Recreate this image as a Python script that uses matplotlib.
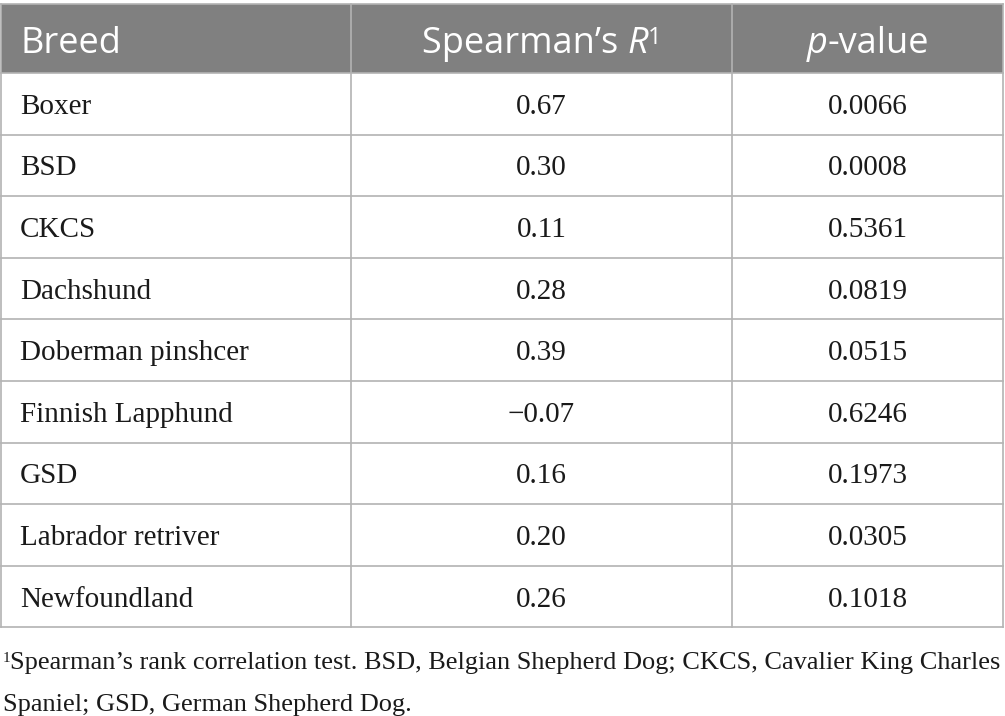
import matplotlib.pyplot as plt
from matplotlib.lines import Line2D

breeds = ['Boxer', 'BSD', 'CKCS', 'Dachshund', 'Doberman pinshcer',
          'Finnish Lapphund', 'GSD', 'Labrador retriver', 'Newfoundland']
spearman_r = ['0.67', '0.30', '0.11', '0.28', '0.39', '\u22120.07', '0.16', '0.20', '0.26']
p_values = ['0.0066', '0.0008', '0.5361', '0.0819', '0.0515', '0.6246', '0.1973', '0.0305', '0.1018']
footnote = ['Spearman\u2019s rank correlation test. BSD, Belgian Shepherd Dog; CKCS, Cavalier King Charles',
            'Spaniel; GSD, German Shepherd Dog.']

W, H = 1005, 716
fig = plt.figure(figsize=(W / 100, H / 100), dpi=100)
ax = fig.add_axes([0, 0, 1, 1])
ax.set_xlim(0, W)
ax.set_ylim(H, 0)
ax.axis('off')
renderer = fig.canvas.get_renderer()


def runs(x, y, parts, ha='center'):
    # parts: list of (text, dy, kwargs); lay them out one after another
    objs = []
    widths = []
    for txt, dy, kw in parts:
        t = ax.text(0, y + dy, txt, ha='left', va='baseline', **kw)
        widths.append(t.get_window_extent(renderer).width)
        objs.append(t)
    total = sum(widths)
    cur = x - total / 2 if ha == 'center' else x
    for t, w in zip(objs, widths):
        t.set_x(cur)
        cur += w


# table geometry in pixels
left, right = 1, 1003
cols = [left, 351, 732, right]
head_top, head_bot = 4, 73
row_h = 61.6
n = len(breeds)
bottom = head_bot + n * row_h

grid = '#b3b3b3'
ax.add_patch(plt.Rectangle((left, head_top), right - left, head_bot - head_top,
                           facecolor='#808080', edgecolor='none'))

ax.add_line(Line2D([left, right], [head_top, head_top], color=grid, lw=1.2))
for i in range(n + 1):
    y = head_bot + i * row_h
    ax.add_line(Line2D([left, right], [y, y], color=grid, lw=1.2))
for x in cols:
    ax.add_line(Line2D([x, x], [head_top, bottom], color=grid, lw=1.2))

hb = 53
head = dict(color='white', fontsize=26, family='Open Sans')
head_it = dict(head, style='italic')
head_sup = dict(head, fontsize=17)
ax.text(20, hb, 'Breed', ha='left', va='baseline', **head)
runs((cols[1] + cols[2]) / 2, hb, [('Spearman\u2019s ', 0, head), ('R', 0, head_it), ('1', -9, head_sup)])
runs((cols[2] + cols[3]) / 2, hb, [('p', 0, head_it), ('-value', 0, head)])

body_kw = dict(color='#1a1a1a', fontsize=21, family='Liberation Serif', va='baseline')
for i in range(n):
    y = head_bot + (i + 0.5) * row_h + 10
    ax.text(20, y, breeds[i], ha='left', **body_kw)
    ax.text((cols[1] + cols[2]) / 2, y, spearman_r[i], ha='center', **body_kw)
    ax.text((cols[2] + cols[3]) / 2, y, p_values[i], ha='center', **body_kw)

foot_kw = dict(color='#1a1a1a', fontsize=19, family='Liberation Serif', va='baseline')
ax.text(3, 662, '1', ha='left', color='#1a1a1a', fontsize=11, family='Liberation Serif', va='baseline')
ax.text(10, 669, footnote[0], ha='left', **foot_kw)
ax.text(3, 711, footnote[1], ha='left', **foot_kw)

fig.savefig('out.png', dpi=100)
